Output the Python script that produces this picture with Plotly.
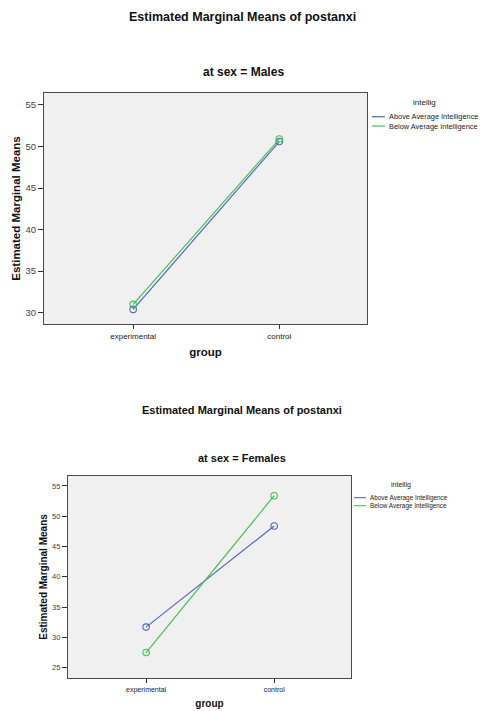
import plotly.graph_objects as go

# ---- data ----
groups = ["experimental", "control"]
series_names = ["Above Average Intelligence", "Below Average Intelligence"]
males_above = [30.4, 50.6]
males_below = [31.0, 50.9]
females_above = [31.7, 48.4]
females_below = [27.5, 53.4]
y_ticks_males = [30, 35, 40, 45, 50, 55]
y_ticks_females = [25, 30, 35, 40, 45, 50, 55]

main_title = "Estimated Marginal Means of postanxi"
sub_males = "at sex = Males"
sub_females = "at sex = Females"
legend_title = "intellig"

blue = "#5266C4"
green = "#45C156"
colors = [blue, green]

W, H = 481, 711
FONT = "Arial, Liberation Sans, sans-serif"

def px(x):
    return x / W

def py(y):
    return 1 - y / H

fig = go.Figure()

panels = [
    dict(xa="x", ya="y", data=[males_above, males_below]),
    dict(xa="x2", ya="y2", data=[females_above, females_below]),
]
for p in panels:
    for name, vals, col in zip(series_names, p["data"], colors):
        fig.add_trace(go.Scatter(
            x=groups, y=vals, name=name, mode="lines+markers",
            xaxis=p["xa"], yaxis=p["ya"], showlegend=False,
            line=dict(color=col, width=1.2),
            marker=dict(symbol="circle-open", size=6.5, color=col, line=dict(width=1.1)),
        ))

frame = "#4A4A4A"
common_x = dict(type="category", range=[-0.61, 1.60], showline=True, mirror=True,
                linecolor=frame, linewidth=1.2, ticks="outside", ticklen=4,
                tickcolor="#333333", showgrid=False, zeroline=False,
                tickfont=dict(family=FONT, color="#222222"))
common_y = dict(showline=True, mirror=True, linecolor=frame, linewidth=1.2,
                ticks="outside", ticklen=5, tickcolor="#333333", showgrid=False,
                zeroline=False, tickfont=dict(family=FONT, color="#444444"))

fig.update_layout(
    width=W, height=H, margin=dict(l=0, r=0, t=0, b=0),
    paper_bgcolor="white", plot_bgcolor="#F0F0F0",
    font=dict(family=FONT),
    xaxis=dict(common_x, domain=[px(44), px(367)], anchor="y",
               tickfont=dict(family=FONT, size=8, color="#222222"),
               title=dict(text="<b>group</b>", font=dict(family=FONT, size=11.5, color="#111111"), standoff=8)),
    yaxis=dict(common_y, domain=[py(324), py(93)], anchor="x",
               range=[28.64, 56.44], tickvals=y_ticks_males,
               tickfont=dict(family=FONT, size=9.5, color="#444444"),
               title=dict(text="<b>Estimated Marginal Means</b>", font=dict(family=FONT, size=11.5, color="#111111"), standoff=2)),
    xaxis2=dict(common_x, domain=[px(68), px(351)], anchor="y2",
                tickfont=dict(family=FONT, size=7, color="#222222"),
                title=dict(text="<b>group</b>", font=dict(family=FONT, size=10, color="#111111"), standoff=7)),
    yaxis2=dict(common_y, domain=[py(678), py(476)], anchor="x2",
                range=[23.3, 56.65], tickvals=y_ticks_females,
                tickfont=dict(family=FONT, size=7.5, color="#444444"),
                title=dict(text="<b>Estimated Marginal Means</b>", font=dict(family=FONT, size=10, color="#111111"), standoff=2)),
)

ann = []
def text(x, y, s, size, bold=False, xanchor="center", color="#111111"):
    ann.append(dict(x=px(x), y=py(y), xref="paper", yref="paper", text=("<b>%s</b>" % s) if bold else s,
                    showarrow=False, xanchor=xanchor, yanchor="middle",
                    font=dict(family=FONT, size=size, color=color)))

text(242, 17, main_title, 12.5, bold=True)
text(243, 72, sub_males, 12, bold=True)
text(242, 410, main_title, 11, bold=True)
text(242, 458, sub_females, 11, bold=True)

# legends
text(424, 103, legend_title, 8, color="#222222")
text(401, 485, legend_title, 7, color="#222222")
shapes = []
for i, (name, col) in enumerate(zip(series_names, colors)):
    y1 = 116.7 + i * 9.3
    shapes.append(dict(type="line", xref="paper", yref="paper", x0=px(372), x1=px(385),
                       y0=py(y1), y1=py(y1), line=dict(color=col, width=1.2)))
    text(387, y1, name, 7.4, xanchor="left", color="#222222")
    y2 = 497.7 + i * 8
    shapes.append(dict(type="line", xref="paper", yref="paper", x0=px(354), x1=px(366),
                       y0=py(y2), y1=py(y2), line=dict(color=col, width=1.1)))
    text(368, y2, name, 6.4, xanchor="left", color="#222222")

fig.update_layout(annotations=ann, shapes=shapes)
fig.write_html("out.html", config={"displayModeBar": False},
               post_script="document.body.style.margin='0';document.body.style.overflow='hidden';")
